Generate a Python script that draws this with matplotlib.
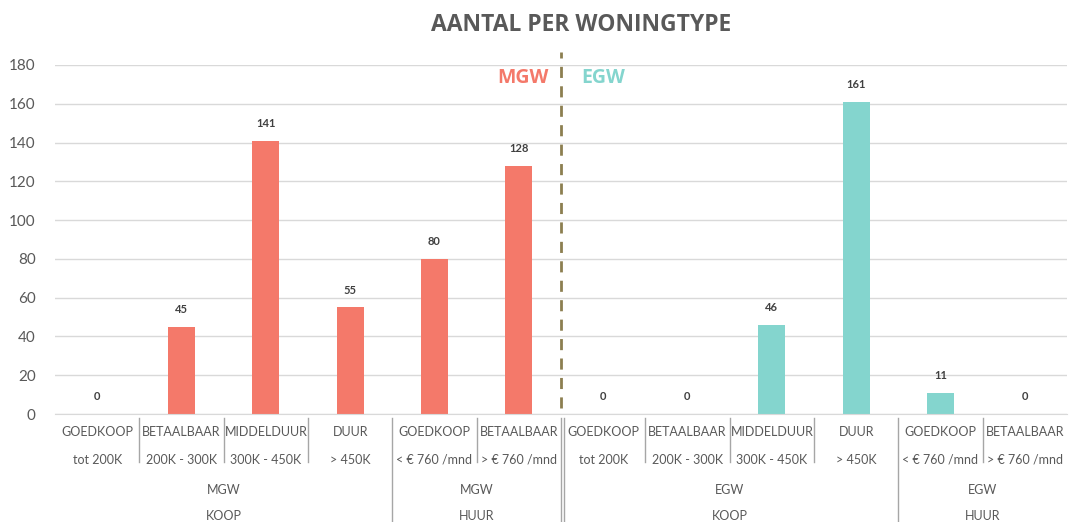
import matplotlib
matplotlib.use('Agg')
from matplotlib import pyplot as plt
from matplotlib.transforms import blended_transform_factory

plt.rcParams['font.family'] = ['Lato', 'DejaVu Sans']

# data
categories = ['GOEDKOOP', 'BETAALBAAR', 'MIDDELDUUR', 'DUUR', 'GOEDKOOP', 'BETAALBAAR',
              'GOEDKOOP', 'BETAALBAAR', 'MIDDELDUUR', 'DUUR', 'GOEDKOOP', 'BETAALBAAR']
ranges = ['tot 200K', '200K - 300K', '300K - 450K', '> 450K', '< € 760 /mnd', '> € 760 /mnd',
          'tot 200K', '200K - 300K', '300K - 450K', '> 450K', '< € 760 /mnd', '> € 760 /mnd']
types = ['MGW', 'MGW', 'EGW', 'EGW']
modes = ['KOOP', 'HUUR', 'KOOP', 'HUUR']
group_sizes = [4, 2, 4, 2]
mgw_values = [0, 45, 141, 55, 80, 128]
egw_values = [0, 0, 46, 161, 11, 0]

red = '#F4796A'
teal = '#84D5CE'

fig = plt.figure(figsize=(10.72, 5.22), dpi=100)
ax = fig.add_axes([55 / 1072, 1 - 414 / 522, 1012 / 1072, 349 / 522])

values = mgw_values + egw_values
colors = [red] * len(mgw_values) + [teal] * len(egw_values)
x = list(range(len(values)))
ax.bar(x, values, width=0.32, color=colors, zorder=2)
for xi, v in zip(x, values):
    ax.text(xi, v + 6, str(v), ha='center', va='bottom', fontsize=8, fontweight='bold', color='#404040')

ax.set_xlim(-0.5, len(values) - 0.5)
ax.set_ylim(0, 180)
ax.set_yticks(range(0, 181, 20))
ax.tick_params(axis='y', length=0, labelsize=11, labelcolor='#595959', pad=14)
ax.set_xticks([])
ax.grid(axis='y', color='#D9D9D9', linewidth=1, zorder=0)
for s in ['top', 'right', 'left']:
    ax.spines[s].set_visible(False)
ax.spines['bottom'].set_color('#D9D9D9')

# dashed divider
ax.plot([5.5, 5.5], [3, 186.5], linestyle=(0, (4, 3)), color='#8C7F50', linewidth=2, clip_on=False, zorder=3)
ax.text(5.05, 173.5, 'MGW', ha='center', va='center', fontsize=14, fontweight='bold', color=red,
        family=['Open Sans', 'DejaVu Sans'])
ax.text(6.0, 173.5, 'EGW', ha='center', va='center', fontsize=14, fontweight='bold', color=teal,
        family=['Open Sans', 'DejaVu Sans'])

# category axis labels
tr = blended_transform_factory(ax.transData, ax.transAxes)
h = 349.0
for xi, (c, r) in enumerate(zip(categories, ranges)):
    ax.text(xi, -(432 - 414) / h, c, transform=tr, ha='center', va='center', fontsize=9, color='#595959')
    ax.text(xi, -(460 - 414) / h, r, transform=tr, ha='center', va='center', fontsize=9, color='#595959')

start = 0
long_bounds = []
for t, m, n in zip(types, modes, group_sizes):
    mid = start + (n - 1) / 2
    ax.text(mid, -(490 - 414) / h, t, transform=tr, ha='center', va='center', fontsize=9, color='#595959')
    ax.text(mid, -(516 - 414) / h, m, transform=tr, ha='center', va='center', fontsize=9, color='#595959')
    start += n
    long_bounds.append(start - 0.5)
long_bounds = long_bounds[:-1]

for b in [i + 0.5 for i in range(len(values) - 1)]:
    if b in long_bounds:
        ax.plot([b, b], [-(418 - 414) / h, -(522 - 414) / h], transform=tr, color='#A6A6A6', linewidth=1, clip_on=False)
        if b == 5.5:
            ax.plot([b + 0.03, b + 0.03], [-(418 - 414) / h, -(522 - 414) / h], transform=tr, color='#A6A6A6', linewidth=1, clip_on=False)
    else:
        ax.plot([b, b], [-(418 - 414) / h, -(462 - 414) / h], transform=tr, color='#A6A6A6', linewidth=1, clip_on=False)

fig.text(581 / 1072, 1 - 25 / 522, 'AANTAL PER WONINGTYPE', ha='center', va='center', fontsize=16.5,
         fontweight='bold', color='#595959', family=['Open Sans', 'DejaVu Sans'])

fig.savefig('out.png', dpi=100)
